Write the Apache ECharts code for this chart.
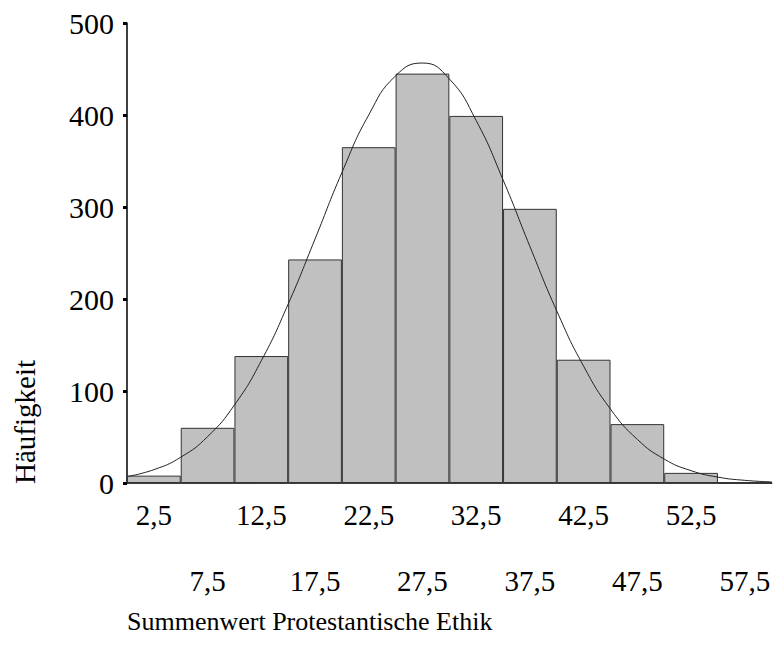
<!DOCTYPE html>
<html>
<head>
<meta charset="utf-8">
<script src="https://cdn.jsdelivr.net/npm/echarts@6/dist/echarts.min.js"></script>
<style>
html,body{margin:0;padding:0;background:#fff;}
#chart{width:773px;height:650px;}
</style>
</head>
<body>
<div id="chart"></div>
<script>
// Bin labels (class midpoints) and frequencies
const categories = ['2,5','7,5','12,5','17,5','22,5','27,5','32,5','37,5','42,5','47,5','52,5','57,5'];
const frequencies = [8, 60, 138, 243, 365, 445, 399, 298, 134, 64, 11, 0];

// Fitted normal curve
const curveX = [0, 2.5, 5, 7.5, 10, 12.5, 15, 17.5, 20, 22.5, 25, 27.5, 30, 32.5, 35, 37.5, 40, 42.5, 45, 47.5, 50, 52.5, 55, 57.5, 60];
const curveY = [7.0, 14.5, 28.0, 50.4, 84.8, 132.9, 194.5, 265.2, 337.4, 400.1, 442.6, 456.5, 439.2, 393.9, 329.5, 257.1, 187.0, 126.9, 80.3, 47.4, 26.0, 13.4, 6.4, 2.9, 1.2];

const yMin = 0, yMax = 500, yStep = 100;
const xTitle = 'Summenwert Protestantische Ethik';
const yTitle = 'Häufigkeit';

const FONT = '"Liberation Serif", "Times New Roman", serif';

const chart = echarts.init(document.getElementById('chart'), null, {renderer: 'svg'});
chart.setOption({
  animation: false,
  backgroundColor: '#fff',
  grid: {left: 127, top: 23, width: 649, height: 460, containLabel: false},
  xAxis: [
    {
      type: 'category',
      data: categories,
      boundaryGap: true,
      axisLine: {lineStyle: {color: '#000', width: 1.5}},
      axisTick: {alignWithLabel: true, length: 4, lineStyle: {color: '#000', width: 2}},
      axisLabel: {
        interval: 0,
        hideOverlap: false,
        margin: 17,
        color: '#000',
        fontFamily: FONT,
        fontSize: 29,
        formatter: function (v, i) { return i % 2 === 0 ? v : '{lo|' + v + '}'; },
        rich: {lo: {padding: [66, 0, 0, 0], fontFamily: FONT, fontSize: 29, color: '#000'}}
      },
      splitLine: {show: false}
    },
    {
      type: 'value',
      min: 0,
      max: 60,
      show: false
    }
  ],
  yAxis: {
    type: 'value',
    min: yMin,
    max: yMax,
    interval: yStep,
    axisLine: {show: true, lineStyle: {color: '#000', width: 1.5}},
    axisTick: {show: true, length: 4, lineStyle: {color: '#000', width: 3}},
    axisLabel: {margin: 13, color: '#000', fontFamily: FONT, fontSize: 30},
    splitLine: {show: false}
  },
  series: [
    {
      type: 'bar',
      xAxisIndex: 0,
      data: frequencies,
      barCategoryGap: '0%',
      itemStyle: {color: '#c0c0c0', borderColor: '#333', borderWidth: 1}
    },
    {
      type: 'line',
      xAxisIndex: 1,
      data: curveX.map((x, i) => [x, curveY[i]]),
      smooth: true,
      symbol: 'none',
      lineStyle: {color: '#222', width: 1},
      z: 5
    }
  ],
  graphic: [
    {
      type: 'text',
      x: 25, y: 422,
      rotation: Math.PI / 2,
      style: {text: yTitle, font: '29px ' + FONT, fill: '#000', textAlign: 'center', textVerticalAlign: 'middle'}
    },
    {
      type: 'text',
      x: 127, y: 621,
      style: {text: xTitle, font: '26px ' + FONT, fill: '#000', textAlign: 'left', textVerticalAlign: 'middle'}
    }
  ]
});
</script>
</body>
</html>
